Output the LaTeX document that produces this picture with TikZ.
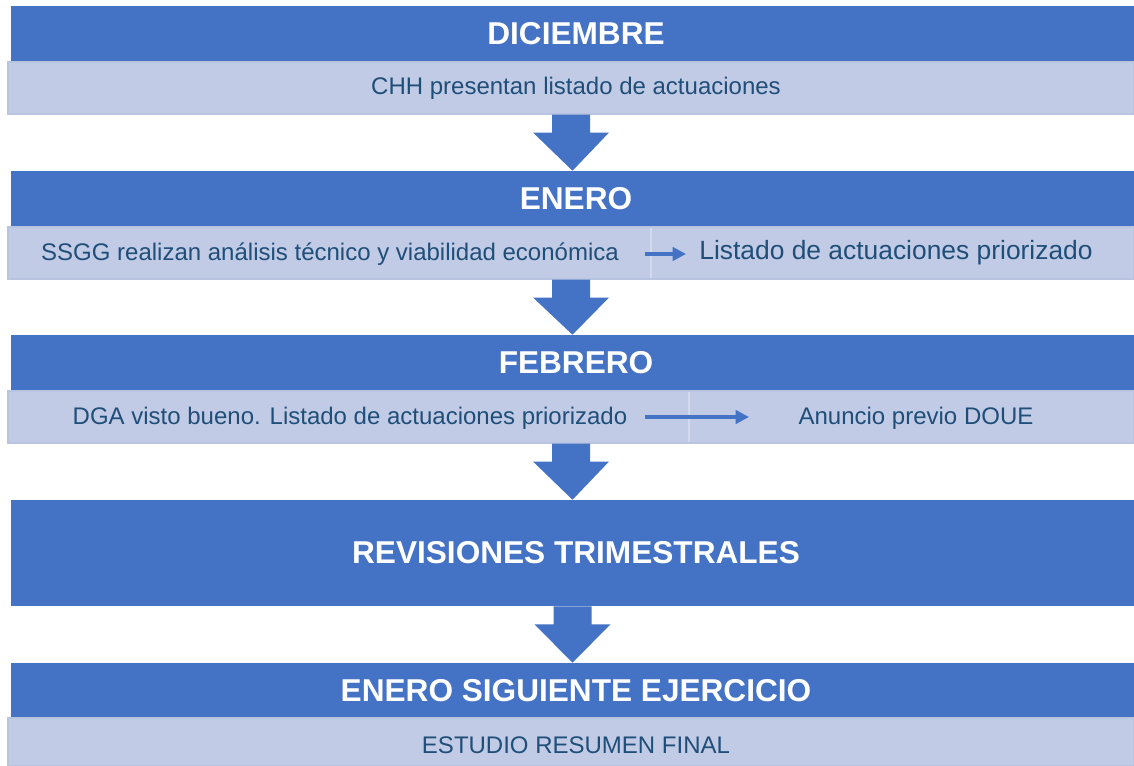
\documentclass[tikz,border=0pt]{standalone}
\usepackage{fontspec}
\setmainfont{Liberation Sans}
\usetikzlibrary{fit,calc,arrows.meta}
\definecolor{hblue}{HTML}{4472C4}
\definecolor{lblue}{HTML}{C1CBE5}
\definecolor{lborder}{HTML}{B9C4E0}
\definecolor{ltext}{HTML}{1F4E79}
\definecolor{sepcol}{HTML}{D3DAEE}
\tikzset{
  hdr/.style={fill=hblue, draw=none, inner sep=0pt, text=white, font=\fontsize{23.7}{28}\selectfont\bfseries},
  row/.style={fill=lblue, draw=lborder, line width=0.8pt, inner sep=0pt},
  rowtext/.style={text=ltext, font=\fontsize{18}{21}\selectfont, inner sep=0pt},
  bigtext/.style={text=ltext, font=\fontsize{19.8}{23}\selectfont, inner sep=0pt},
  sep/.style={draw=sepcol, line width=1pt},
  blockarrow/.style={fill=hblue, draw=none},
  smallarrow/.style={draw=hblue, line width=2.4pt, -{Triangle[length=10pt,width=10pt]}}
}
\newcommand{\blockarr}[2]{%
  \fill[blockarrow] ($(#1.south)+(-19,0)$) -- ($(#1.south)+(19,0)$) -- ($(#1.south)+(19,18)$)
    -- ($(#1.south)+(38,18)$) -- (#2.north) -- ($(#1.south)+(-38,18)$) -- ($(#1.south)+(-19,18)$) -- cycle;}
\begin{document}
\begin{tikzpicture}[x=0.75pt,y=-0.75pt]
\useasboundingbox (0,0) rectangle (1134,766);
% DICIEMBRE
\node[hdr, fit={(11,6) (1134,62)}] (h1) {};
\node[hdr, fill=none] (h1t) at (576,34) {DICIEMBRE};
\node[row, fit={(8,62) (1134,114)}] (l1) {};
\node[rowtext] (l1t) at (576,88) {CHH presentan listado de actuaciones};
% ENERO
\node[hdr, fit={(11,171) (1134,227)}] (h2) {};
\node[hdr, fill=none] (h2t) at (576,199) {ENERO};
\node[row, fit={(8,227) (1134,279)}] (l2) {};
\coordinate (s2a) at (651,228);
\coordinate (s2b) at (651,278);
\draw[sep] (s2a) -- (s2b);
\node[rowtext] (l2a) at (330,254) {SSGG realizan análisis técnico y viabilidad económica};
\node[bigtext] (l2b) at (896,253) {Listado de actuaciones priorizado};
\coordinate (a2s) at (645,254);
\coordinate (a2e) at (686,254);
\draw[smallarrow] (a2s) -- (a2e);
% FEBRERO
\node[hdr, fit={(11,335) (1134,391)}] (h3) {};
\node[hdr, fill=none] (h3t) at (576,363) {FEBRERO};
\node[row, fit={(8,391) (1134,443)}] (l3) {};
\coordinate (s3a) at (689,392);
\coordinate (s3b) at (689,442);
\draw[sep] (s3a) -- (s3b);
\node[rowtext] (l3a) at (350,418) {DGA visto bueno. Listado de actuaciones priorizado};
\node[rowtext] (l3b) at (916,418) {Anuncio previo DOUE};
\coordinate (a3s) at (645,417);
\coordinate (a3e) at (749,417);
\draw[smallarrow] (a3s) -- (a3e);
% REVISIONES
\node[hdr, fit={(11,500) (1134,606)}] (h4) {};
\node[hdr, fill=none] (h4t) at (576,553) {REVISIONES TRIMESTRALES};
% ENERO SIGUIENTE
\node[hdr, fit={(11,663) (1134,718)}] (h5) {};
\node[hdr, fill=none] (h5t) at (576,691) {ENERO SIGUIENTE EJERCICIO};
\node[row, fit={(8,718) (1134,766)}] (l5) {};
\node[rowtext] (l5t) at (576,745) {ESTUDIO RESUMEN FINAL};
% block arrows
\blockarr{l1}{h2}
\blockarr{l2}{h3}
\blockarr{l3}{h4}
\blockarr{h4}{h5}
\end{tikzpicture}
\end{document}
